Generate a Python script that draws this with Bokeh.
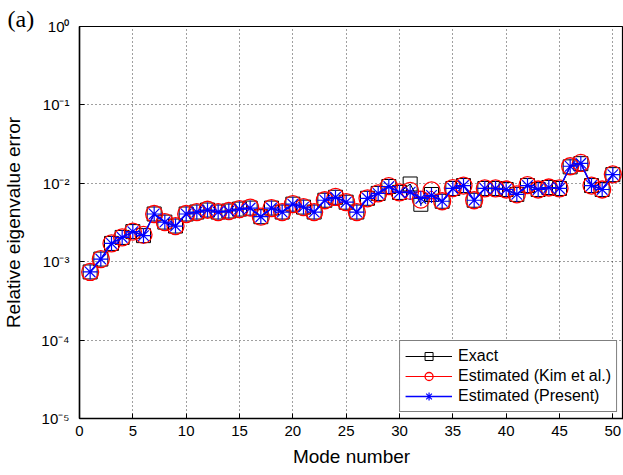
from bokeh.plotting import figure
from bokeh.models import Range1d, FixedTicker, Label, Legend, LegendItem
from bokeh.embed import file_html
from bokeh.resources import INLINE

modes = [1, 2, 3, 4, 5, 6, 7, 8, 9, 10, 11, 12, 13, 14, 15, 16, 17, 18, 19, 20,
         21, 22, 23, 24, 25, 26, 27, 28, 29, 30, 31, 32, 33, 34, 35, 36, 37, 38, 39, 40,
         41, 42, 43, 44, 45, 46, 47, 48, 49, 50]

present = [7.4e-4, 1.08e-3, 1.71e-3, 2.04e-3, 2.42e-3, 2.15e-3, 4.06e-3, 3.2e-3, 2.85e-3, 4.06e-3,
           4.3e-3, 4.56e-3, 4.3e-3, 4.43e-3, 4.69e-3, 4.83e-3, 3.75e-3, 4.83e-3, 4.3e-3, 5.42e-3,
           4.97e-3, 4.3e-3, 6.08e-3, 6.63e-3, 5.74e-3, 4.3e-3, 6.44e-3, 7.43e-3, 9.1e-3, 7.65e-3,
           7.7e-3, 6.4e-3, 7.0e-3, 5.9e-3, 8.59e-3, 9.36e-3, 6.08e-3, 8.59e-3, 8.59e-3, 8.34e-3,
           7.22e-3, 9.36e-3, 8.34e-3, 8.84e-3, 8.59e-3, 1.65e-2, 1.8e-2, 9.36e-3, 8.34e-3, 1.29e-2]

kim = [7.4e-4, 1.08e-3, 1.71e-3, 2.04e-3, 2.42e-3, 2.2e-3, 4.06e-3, 3.2e-3, 2.85e-3, 4.06e-3,
       4.3e-3, 4.6e-3, 4.3e-3, 4.43e-3, 4.69e-3, 4.9e-3, 3.75e-3, 4.83e-3, 4.3e-3, 5.42e-3,
       4.97e-3, 4.3e-3, 6.08e-3, 6.7e-3, 5.74e-3, 4.3e-3, 6.44e-3, 7.43e-3, 9.2e-3, 7.65e-3,
       8.0e-3, 6.2e-3, 8.1e-3, 5.9e-3, 8.7e-3, 9.36e-3, 6.08e-3, 8.59e-3, 8.59e-3, 8.34e-3,
       7.22e-3, 9.5e-3, 8.34e-3, 8.84e-3, 8.59e-3, 1.65e-2, 1.82e-2, 9.36e-3, 8.34e-3, 1.3e-2]

exact = [7.4e-4, 1.08e-3, 1.71e-3, 2.04e-3, 2.42e-3, 2.15e-3, 4.06e-3, 3.2e-3, 2.85e-3, 4.06e-3,
         4.3e-3, 4.56e-3, 4.3e-3, 4.43e-3, 4.69e-3, 4.83e-3, 3.75e-3, 4.83e-3, 4.3e-3, 5.42e-3,
         4.97e-3, 4.3e-3, 6.08e-3, 6.63e-3, 5.74e-3, 4.3e-3, 6.44e-3, 7.43e-3, 9.1e-3, 7.65e-3,
         9.8e-3, 5.4e-3, 7.2e-3, 5.9e-3, 8.59e-3, 9.36e-3, 6.08e-3, 8.59e-3, 8.59e-3, 8.34e-3,
         7.22e-3, 9.36e-3, 8.34e-3, 8.84e-3, 8.59e-3, 1.62e-2, 1.78e-2, 9.36e-3, 8.34e-3, 1.29e-2]

x_ticks = [0, 5, 10, 15, 20, 25, 30, 35, 40, 45, 50]
y_ticks = [1e-5, 1e-4, 1e-3, 1e-2, 1e-1, 1e0]
y_tick_labels = ["10\u207b\u2075", "10\u207b\u2074", "10\u207b\u00b3", "10\u207b\u00b2", "10\u207b\u00b9", "10\u2070"]
panel_tag = "(a)"

FONT = "Liberation Sans"

p = figure(width=623, height=475, y_axis_type="log",
           x_range=Range1d(0, 51), y_range=Range1d(1e-5, 1e0),
           output_backend="svg", toolbar_location=None,
           min_border_left=78, min_border_right=0, min_border_top=17, min_border_bottom=57)
p.background_fill_color = "white"
p.border_fill_color = "white"
p.outline_line_color = "black"
p.outline_line_width = 1.2
p.outline_line_alpha = 1

# axes
p.xaxis.ticker = FixedTicker(ticks=x_ticks)
p.yaxis.ticker = FixedTicker(ticks=y_ticks)
p.yaxis.major_label_overrides = dict(zip(y_ticks, y_tick_labels))
for ax in (p.xaxis[0], p.yaxis[0]):
    ax.axis_line_color = "black"
    ax.axis_line_width = 1.5
    ax.major_tick_in = 5
    ax.major_tick_out = 0
    ax.major_tick_line_color = "black"
    ax.minor_tick_line_color = None
    ax.major_label_text_font = FONT
    ax.major_label_text_color = "black"
    ax.axis_label_text_font = FONT
    ax.axis_label_text_font_style = "normal"
    ax.axis_label_text_color = "black"
    ax.axis_label_text_font_size = "19px"

p.xaxis.major_label_text_font_size = "15px"
p.xaxis.major_label_standoff = 7
p.xaxis.axis_label = "Mode number"
p.xaxis.axis_label_standoff = 7

p.yaxis.major_label_text_font_size = "15px"
p.yaxis.major_label_standoff = 10
p.yaxis.axis_label = "Relative eigenvalue error"
p.yaxis.axis_label_standoff = 14

# grid
for g in (p.xgrid[0], p.ygrid[0]):
    g.grid_line_color = "black"
    g.grid_line_dash = "1 3"
    g.grid_line_width = 1
    g.grid_line_alpha = 0.75
p.ygrid.minor_grid_line_color = None

# series
l1 = p.line(modes, exact, line_color="black", line_width=1)
s1 = p.scatter(modes, exact, marker="square", size=14, line_color="black",
               fill_color=None, line_width=1)
l2 = p.line(modes, kim, line_color="red", line_width=1)
s2 = p.scatter(modes, kim, marker="circle", size=17, line_color="red",
               fill_color=None, line_width=1.3)
l3 = p.line(modes, present, line_color="blue", line_width=1.6)
s3 = p.scatter(modes, present, marker="asterisk", size=15, line_color="blue",
               line_width=1.2)

legend = Legend(items=[
    LegendItem(label="Exact", renderers=[l1, s1]),
    LegendItem(label="Estimated (Kim et al.)", renderers=[l2, s2]),
    LegendItem(label="Estimated (Present)", renderers=[l3, s3]),
], location="bottom_right")
legend.label_text_font = FONT
legend.label_text_font_size = "16px"
legend.label_text_color = "black"
legend.glyph_width = 47
legend.glyph_height = 20
legend.spacing = 0
legend.padding = 5
legend.margin = 6
legend.label_standoff = 6
legend.border_line_color = "black"
legend.border_line_width = 1
legend.background_fill_color = "white"
legend.background_fill_alpha = 1
p.add_layout(legend)

# panel tag "(a)" in the top side panel (screen px relative to that panel's bottom-left)
p.add_layout(Label(x=-72, y=21, x_units="screen", y_units="screen", text=panel_tag,
                   text_font="Liberation Serif", text_font_size="24px",
                   text_color="black", text_align="left", text_baseline="top"), "above")

open("out.html", "w").write(file_html(p, INLINE))
